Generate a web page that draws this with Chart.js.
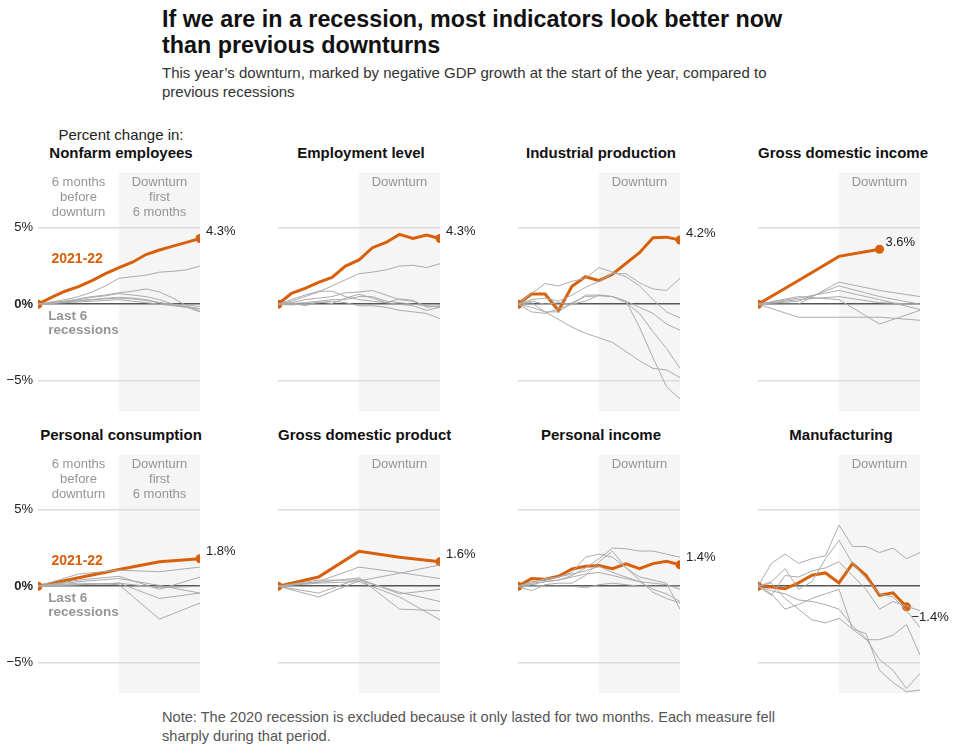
<!DOCTYPE html>
<html>
<head>
<meta charset="utf-8">
<script src="https://cdn.jsdelivr.net/npm/chart.js@4.4.1/dist/chart.umd.min.js"></script>
<style>
  body { margin: 0; background: #fff; font-family: "Liberation Sans", Arial, sans-serif; }
  #wrap { position: relative; width: 965px; height: 753px; overflow: hidden; }
  #title { position: absolute; left: 162px; top: 6px; font-size: 23.3px; line-height: 26px; font-weight: bold; color: #111; white-space: nowrap; }
  #sub { position: absolute; left: 162px; top: 63px; font-size: 15px; line-height: 19px; color: #333; white-space: nowrap; }
  #note { position: absolute; left: 162px; top: 708px; font-size: 14.6px; line-height: 19px; color: #555; white-space: nowrap; }
  #unit { position: absolute; left: 38px; width: 166px; top: 126px; font-size: 15px; line-height: 18px; text-align: center; color: #222; }
  .ptitle { position: absolute; width: 166px; font-size: 15px; line-height: 18px; font-weight: bold; text-align: center; color: #111; white-space: nowrap; }
  canvas { position: absolute; }
</style>
</head>
<body>
<div id="wrap">
  <div id="title">If we are in a recession, most indicators look better now<br>than previous downturns</div>
  <div id="sub">This year’s downturn, marked by negative GDP growth at the start of the year, compared to<br>previous recessions</div>
  <div id="unit">Percent change in:</div>
  <div id="note">Note: The 2020 recession is excluded because it only lasted for two months. Each measure fell<br>sharply during that period.</div>
</div>
<script>
// months from 6 before the downturn (0) to 6 after (12)
const monthsM = [0, 1, 2, 3, 4, 5, 6, 7, 8, 9, 10, 11, 12];
const monthsQ = [0, 3, 6, 9, 12];
const yTicks = [-5, 0, 5];

const panelTitles = ['Nonfarm employees', 'Employment level', 'Industrial production', 'Gross domestic income',
  'Personal consumption', 'Gross domestic product', 'Personal income', 'Manufacturing'];
const endLabels = ['4.3%', '4.3%', '4.2%', '3.6%', '1.8%', '1.6%', '1.4%', '−1.4%'];

// 2021-22 lines
const nonfarmNow = [0, 0.45, 0.85, 1.15, 1.55, 2.0, 2.4, 2.75, 3.25, 3.55, 3.8, 4.05, 4.3];
const employmentNow = [0, 0.72, 1.04, 1.43, 1.76, 2.5, 2.9, 3.7, 4.04, 4.57, 4.3, 4.52, 4.3];
const industrialNow = [0, 0.67, 0.67, -0.41, 1.17, 1.8, 1.54, 1.96, 2.67, 3.37, 4.35, 4.39, 4.2];
const gdiNow = [0, 1.55, 3.13, 3.6];
const consumptionNow = [0, 0.55, 1.1, 1.6, 1.8];
const gdpNow = [0, 0.6, 2.28, 1.89, 1.6];
const incomeNow = [0, 0.5, 0.46, 0.65, 1.13, 1.3, 1.35, 1.15, 1.46, 1.15, 1.48, 1.63, 1.4];
const manufacturingNow = [0, -0.05, -0.17, 0.22, 0.72, 0.87, 0.22, 1.48, 0.72, -0.59, -0.43, -1.35];

// last 6 recessions
const nonfarmPast = [
  [0, 0.15, 0.3, 0.5, 0.8, 1.2, 1.7, 1.8, 1.9, 2.1, 2.15, 2.25, 2.5],
  [0, 0.1, 0.2, 0.35, 0.5, 0.6, 0.75, 0.85, 1.0, 0.8, 0.4, -0.1, -0.45],
  [0, 0.1, 0.2, 0.3, 0.45, 0.55, 0.7, 0.6, 0.5, 0.3, 0.0, -0.15, -0.3],
  [0, 0.05, 0.15, 0.2, 0.3, 0.35, 0.4, 0.35, 0.25, 0.1, -0.05, -0.2, -0.5],
  [0, 0.1, 0.15, 0.25, 0.3, 0.4, 0.45, 0.4, 0.3, 0.1, 0.0, -0.05, -0.15],
  [0, 0.05, 0.1, 0.15, 0.2, 0.25, 0.3, 0.2, 0.1, 0.0, -0.1, -0.2, -0.3]
];
const employmentPast = [
  [0, 0.2, 0.5, 0.8, 1.2, 1.6, 2.0, 2.1, 2.25, 2.5, 2.55, 2.4, 2.65],
  [0, 0.3, 0.6, 0.85, 0.85, 0.5, 0.3, 0.2, 0.1, 0.0, -0.1, -0.4, -0.2],
  [0, 0.1, 0.3, 0.4, 0.5, 0.75, 0.8, 0.9, 0.6, 0.3, 0.2, -0.1, -0.15],
  [0, -0.05, 0.05, 0.1, 0.2, 0.1, -0.1, -0.1, -0.2, -0.4, -0.5, -0.6, -0.95],
  [0, 0.1, -0.1, 0.15, 0.05, 0.4, 0.65, 0.4, 0.1, 0.35, 0.25, -0.2, -0.1],
  [0, 0.05, 0.1, 0.2, 0.3, 0.3, 0.5, 0.5, 0.2, 0.1, 0.0, -0.1, -0.2]
];
const industrialPast = [
  [0, 0.7, 1.35, 1.2, 1.5, 1.7, 2.4, 2.1, 1.8, 1.2, 0.3, -0.5, -0.9],
  [0, 0.3, 0.4, 0.2, 0.6, 1.1, 1.5, 2.0, 2.0, 1.4, 1.0, 0.9, 1.7],
  [0, -0.5, -0.6, -0.3, 0.0, 0.6, 0.6, 0.5, 0.2, -0.2, -0.6, -1.3, -1.7],
  [0, 0.1, -0.5, -0.5, 0.1, 0.5, 0.55, 0.5, 0.1, -0.6, -1.8, -2.9, -4.2],
  [0, -0.2, -0.5, -1.0, -1.5, -1.9, -2.2, -2.5, -3.1, -3.7, -4.2, -4.3, -4.8],
  [0, 0.2, 0.0, 0.1, 0.0, 0.2, 0.6, 0.5, 0.2, -1.5, -3.5, -5.4, -6.2]
];
const gdiPast = [
  [0, 0.5, 0.3, -1.3, -0.4],
  [0, -0.85, -0.85, -0.85, -1.05],
  [0, 0.0, 1.45, 0.9, 0.5],
  [0, 0.2, 1.2, 0.5, 0.0],
  [0, 0.4, 0.9, 0.3, -0.35],
  [0, 0.3, 0.5, 0.1, 0.0]
];
const consumptionPast = [
  [0, 0.8, 1.05, 0.95, 1.25],
  [0, 0.4, 0.65, -0.2, 0.6],
  [0, 0.1, 0.2, -0.8, -0.45],
  [0, 0.2, 0.1, -2.15, -1.1],
  [0, 0.3, 0.5, 0.05, -0.45],
  [0, 0.1, 0.2, -0.1, 0.0]
];
const gdpPast = [
  [0, 0.3, 1.25, 0.9, 0.5],
  [0, -0.7, 0.35, 0.85, 1.4],
  [0, -0.45, 0.5, -0.5, -0.2],
  [0, 0.25, 0.55, -1.5, -1.6],
  [0, 0.4, 0.4, -0.4, -1.0],
  [0, 0.2, 0.3, -0.7, -2.2]
];
const incomePast = [
  [0, 0.1, 0.3, 0.4, 0.7, 1.2, 1.8, 2.5, 2.45, 2.3, 2.3, 2.1, 1.9],
  [0, 0.3, 0.4, 0.6, 0.9, 1.9, 2.1, 1.9, 1.2, 0.4, -0.4, -0.8, -1.1],
  [0, 0.2, 0.5, 0.6, 0.8, 1.0, 1.3, 0.9, 0.6, 0.3, -0.2, -0.5, -1.0],
  [0, -0.3, 0.1, 0.2, 0.2, 0.7, 1.6, 2.3, 1.2, 0.6, 0.4, 0.2, -1.5],
  [0, 0.1, 0.0, 0.0, 0.0, -0.1, 0.1, 0.2, 0.1, 0.0, 0.0, 0.0, 0.0],
  [0, 0.2, 0.3, 0.4, 0.6, 0.8, 0.9, 0.7, 0.5, 0.3, 0.2, 0.1, -0.2]
];
const manufacturingPast = [
  [0, 1.5, 2.1, 1.5, 1.8, 2.0, 4.0, 2.6, 2.6, 2.2, 2.5, 1.8, 2.2],
  [0, 0.3, 1.15, -0.2, 0.3, 1.8, 3.0, 1.5, 0.5, -0.5, -0.7, -1.6, -2.7],
  [0, -0.6, 0.7, 0.6, 1.0, 1.2, 1.6, 0.7, -0.2, -1.5, -1.0, -1.3, -1.6],
  [0, -0.5, -1.5, -1.2, -0.8, -0.5, -0.2, -2.8, -3.5, -3.5, -3.2, -2.5, -4.5],
  [0, 0.2, -0.8, -1.5, -2.2, -2.4, -2.1, -2.8, -3.1, -5.5, -6.3, -6.9, -6.8],
  [0, -0.3, -0.5, -0.9, -1.0, -1.2, -1.5, -2.6, -3.4, -4.8, -5.5, -6.7, -5.7]
];

const ORANGE = '#d8600b';
const GRAY_LINE = '#ababab';
const GRAY_TEXT = '#959595';
const FONT = '"Liberation Sans", Arial, sans-serif';
Chart.defaults.font.family = FONT;

const panels = [
  { now: nonfarmNow, nowX: monthsM, past: nonfarmPast, pastX: monthsM, intro: true, nowLabelY: 2.95 },
  { now: employmentNow, nowX: monthsM, past: employmentPast, pastX: monthsM },
  { now: industrialNow, nowX: monthsM, past: industrialPast, pastX: monthsM },
  { now: gdiNow, nowX: monthsQ, past: gdiPast, pastX: monthsQ },
  { now: consumptionNow, nowX: monthsQ, past: consumptionPast, pastX: monthsQ, intro: true, nowLabelY: 1.67 },
  { now: gdpNow, nowX: monthsQ, past: gdpPast, pastX: monthsQ },
  { now: incomeNow, nowX: monthsM, past: incomePast, pastX: monthsM },
  { now: manufacturingNow, nowX: monthsM, past: manufacturingPast, pastX: monthsM, labelBelow: true }
];

function pts(xs, ys) {
  return ys.map((v, i) => ({ x: xs[i], y: v }));
}

// shading for the downturn half + all the small texts
const notesPlugin = {
  id: 'notes',
  beforeDraw(chart, args, o) {
    const { ctx, chartArea: a, scales: { x } } = chart;
    const x6 = x.getPixelForValue(6);
    ctx.save();
    ctx.fillStyle = '#f5f5f5';
    ctx.fillRect(x6, a.top, a.right - x6, a.bottom - a.top);
    ctx.restore();
  },
  afterDatasetsDraw(chart, args, o) {
    const { ctx, chartArea: a, scales: { x, y } } = chart;
    const p = o.panel;
    ctx.save();
    ctx.textBaseline = 'middle';
    ctx.textAlign = 'center';
    ctx.fillStyle = GRAY_TEXT;
    ctx.font = '13px ' + FONT;
    const cRight = (x.getPixelForValue(6) + a.right) / 2;
    if (p.intro) {
      const cLeft = (a.left + x.getPixelForValue(6)) / 2;
      ['6 months', 'before', 'downturn'].forEach((t, i) => ctx.fillText(t, cLeft, a.top + 10 + i * 15));
      ['Downturn', 'first', '6 months'].forEach((t, i) => ctx.fillText(t, cRight, a.top + 10 + i * 15));
      ctx.textAlign = 'left';
      ctx.font = 'bold 13.5px ' + FONT;
      ctx.fillText('Last 6', x.getPixelForValue(0.75), y.getPixelForValue(0) + 12);
      ctx.fillText('recessions', x.getPixelForValue(0.75), y.getPixelForValue(0) + 26);
      ctx.fillStyle = ORANGE;
      ctx.font = 'bold 14px ' + FONT;
      ctx.fillText('2021-22', x.getPixelForValue(1), y.getPixelForValue(p.nowLabelY));
    } else {
      ctx.fillText('Downturn', cRight, a.top + 10);
    }
    // end value label
    const meta = chart.getDatasetMeta(chart.data.datasets.length - 1);
    const last = meta.data[meta.data.length - 1];
    ctx.textAlign = 'left';
    ctx.fillStyle = '#222';
    ctx.font = '13px ' + FONT;
    if (p.labelBelow) {
      ctx.fillText(o.label, last.x + 5, last.y + 11);
    } else {
      ctx.fillText(o.label, last.x + 6, last.y - 7);
    }
    ctx.restore();
  }
};

const wrap = document.getElementById('wrap');

panels.forEach((p, i) => {
  const col = i % 4, row = Math.floor(i / 4);
  const left = col * 240;
  const top = row === 0 ? 160 : 442;

  const t = document.createElement('div');
  t.className = 'ptitle';
  t.textContent = panelTitles[i];
  t.style.left = (left + 38) + 'px';
  t.style.top = (row === 0 ? 144 : 426) + 'px';
  wrap.appendChild(t);

  const cv = document.createElement('canvas');
  cv.width = 240;
  cv.height = 264;
  cv.style.left = left + 'px';
  cv.style.top = top + 'px';
  wrap.appendChild(cv);

  const datasets = p.past.map(s => ({
    data: pts(p.pastX, s),
    borderColor: GRAY_LINE,
    borderWidth: 1,
    pointRadius: 0,
    tension: 0
  }));
  datasets.push({
    data: pts(p.nowX, p.now),
    borderColor: ORANGE,
    backgroundColor: ORANGE,
    borderWidth: 3,
    pointRadius: c => (c.dataIndex === 0 || c.dataIndex === p.now.length - 1) ? 4.5 : 0,
    pointBorderWidth: 0,
    pointBackgroundColor: ORANGE,
    tension: 0
  });

  new Chart(cv, {
    type: 'line',
    data: { datasets },
    options: {
      responsive: false,
      animation: false,
      layout: { padding: { top: 10, right: 40, bottom: 5, left: 0 } },
      plugins: {
        legend: { display: false },
        tooltip: { enabled: false },
        notes: { panel: p, label: endLabels[i] }
      },
      scales: {
        x: { type: 'linear', min: 0, max: 12, display: false },
        y: {
          min: -7,
          max: 8.6,
          afterFit: s => { s.width = 38; },
          afterBuildTicks: s => { s.ticks = yTicks.map(v => ({ value: v })); },
          border: { display: false },
          grid: {
            drawTicks: false,
            lineWidth: 1.5,
            color: c => c.tick && c.tick.value === 0 ? '#555' : '#dcdcdc'
          },
          ticks: {
            padding: 5,
            color: '#222',
            font: c => ({ size: 13, weight: c.tick && c.tick.value === 0 ? 'bold' : 'normal' }),
            callback: v => col !== 0 ? '' : (v === 0 ? '0%' : (v > 0 ? v + '%' : '−' + Math.abs(v) + '%'))
          }
        }
      }
    },
    plugins: [notesPlugin]
  });
});
</script>
</body>
</html>
